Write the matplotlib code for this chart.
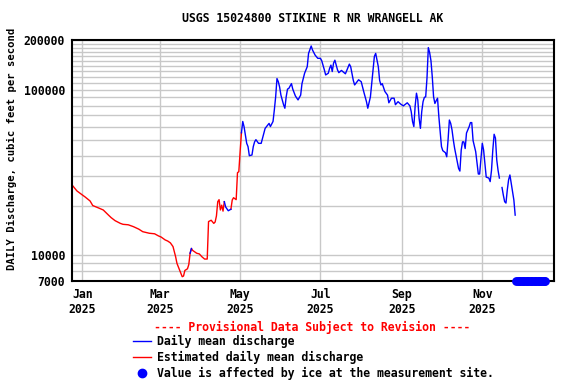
import numpy as np
import pandas as pd
import matplotlib
matplotlib.use("Agg")
import matplotlib.pyplot as plt
from matplotlib.lines import Line2D

plt.rcParams["font.family"] = "DejaVu Sans Mono"
plt.rcParams["font.weight"] = "bold"
plt.rcParams["font.size"] = 8.3

title = "USGS 15024800 STIKINE R NR WRANGELL AK"
ylabel = "DAILY Discharge, cubic feet per second"

# estimated daily mean discharge (red), cfs -- nan breaks the line
est_dates = ["2024-12-25", "2024-12-28", "2025-01-01", "2025-01-03", "2025-01-07",
             "2025-01-09", "2025-01-13", "2025-01-17", "2025-01-21", "2025-01-23",
             "2025-01-26", "2025-01-30", "2025-02-01", "2025-02-05", "2025-02-09",
             "2025-02-13", "2025-02-16", "2025-02-21", "2025-02-25", "2025-02-28",
             "2025-03-02", "2025-03-05", "2025-03-07", "2025-03-09", "2025-03-11",
             "2025-03-13", "2025-03-14", "2025-03-16", "2025-03-18", "2025-03-19",
             "2025-03-20", "2025-03-22", "2025-03-23", "2025-03-24", "2025-03-25",
             "2025-03-26", "2025-03-29", "2025-03-31", "2025-04-02", "2025-04-04",
             "2025-04-06", "2025-04-07", "2025-04-09", "2025-04-11", "2025-04-12",
             "2025-04-13", "2025-04-14", "2025-04-15", "2025-04-16", "2025-04-17",
             "2025-04-18", "2025-04-19", "2025-04-21", "2025-04-24", "2025-04-25",
             "2025-04-26", "2025-04-28", "2025-04-29", "2025-04-30", "2025-05-01",
             "2025-05-02"]
est_flow = [26200, 24500, 23200, 22600, 21300,
            20000, 19400, 18800, 17500, 16900,
            16200, 15600, 15400, 15300, 14900,
            14400, 13900, 13600, 13500, 13100,
            12900, 12400, 12200, 11900, 11300,
            9800, 8950, 8150, 7430, 7500,
            8100, 8300, 8800, 10300, 11000,
            10700, 10300, 10200, 9800, 9500,
            9500, 16000, 16300, 15600, 15900,
            17300, 21100, 21700, 18800, 20100,
            18500, 21100, np.nan, 19000, 21600,
            22300, 21700, 31600, 32000, 42300,
            55000]

# daily mean discharge (blue), cfs
daily_dates = ["2025-03-24", "2025-03-25", "2025-04-01",
               "2025-04-19", "2025-04-20", "2025-04-22", "2025-04-24", "2025-04-28",
               "2025-05-02", "2025-05-03", "2025-05-04", "2025-05-06", "2025-05-07",
               "2025-05-08", "2025-05-10", "2025-05-11", "2025-05-12", "2025-05-13",
               "2025-05-15", "2025-05-17", "2025-05-19", "2025-05-20", "2025-05-22",
               "2025-05-23", "2025-05-24", "2025-05-26", "2025-05-27", "2025-05-28",
               "2025-05-29", "2025-05-30", "2025-05-31", "2025-06-01", "2025-06-03",
               "2025-06-04", "2025-06-05", "2025-06-06", "2025-06-07", "2025-06-09",
               "2025-06-10", "2025-06-12", "2025-06-14", "2025-06-16", "2025-06-17",
               "2025-06-19", "2025-06-21", "2025-06-22", "2025-06-24", "2025-06-25",
               "2025-06-27", "2025-06-29", "2025-07-01", "2025-07-02", "2025-07-04",
               "2025-07-05", "2025-07-07", "2025-07-08", "2025-07-09", "2025-07-10",
               "2025-07-11", "2025-07-12", "2025-07-14", "2025-07-15", "2025-07-17",
               "2025-07-20", "2025-07-23", "2025-07-24", "2025-07-26", "2025-07-27",
               "2025-07-30", "2025-08-01", "2025-08-03", "2025-08-05", "2025-08-06",
               "2025-08-08", "2025-08-10", "2025-08-11", "2025-08-12", "2025-08-14",
               "2025-08-15", "2025-08-16", "2025-08-17", "2025-08-19", "2025-08-21",
               "2025-08-22", "2025-08-24", "2025-08-26", "2025-08-27", "2025-08-29",
               "2025-08-31", "2025-09-02", "2025-09-05", "2025-09-07", "2025-09-08",
               "2025-09-09", "2025-09-10", "2025-09-11", "2025-09-12", "2025-09-13",
               "2025-09-14", "2025-09-15", "2025-09-16", "2025-09-17", "2025-09-18",
               "2025-09-19", "2025-09-20", "2025-09-21", "2025-09-22", "2025-09-23",
               "2025-09-24", "2025-09-25", "2025-09-26", "2025-09-27", "2025-09-28",
               "2025-09-29", "2025-09-30", "2025-10-01", "2025-10-02", "2025-10-04",
               "2025-10-05", "2025-10-06", "2025-10-07", "2025-10-08", "2025-10-09",
               "2025-10-10", "2025-10-11", "2025-10-13", "2025-10-14", "2025-10-15",
               "2025-10-16", "2025-10-17", "2025-10-18", "2025-10-19", "2025-10-20",
               "2025-10-22", "2025-10-23", "2025-10-24", "2025-10-25", "2025-10-27",
               "2025-10-28", "2025-10-29", "2025-10-30", "2025-10-31", "2025-11-01",
               "2025-11-02", "2025-11-03", "2025-11-04", "2025-11-06", "2025-11-07",
               "2025-11-08", "2025-11-09", "2025-11-10", "2025-11-11", "2025-11-12",
               "2025-11-13", "2025-11-14", "2025-11-15", "2025-11-16", "2025-11-17",
               "2025-11-18", "2025-11-19", "2025-11-20", "2025-11-21", "2025-11-22",
               "2025-11-23", "2025-11-24", "2025-11-25", "2025-11-26"]
daily_flow = [10300, 11000, np.nan,
              21100, 19600, 18600, 19000, np.nan,
              55000, 64400, 59800, 47500, 45400,
              40000, 40400, 45400, 48500, 50000,
              47500, 47500, 54700, 58500, 61300,
              62700, 60000, 64400, 75700, 90700,
              117000, 112000, 104000, 92900, 81300,
              77400, 90700, 101000, 102000, 109000,
              101000, 91800, 86900, 92900, 109000,
              126000, 138000, 166000, 184000, 174000,
              162000, 155000, 155000, 150000, 132000,
              123000, 126000, 135000, 141000, 129000,
              145000, 151000, 132000, 127000, 131000,
              125000, 143000, 138000, 114000, 107000,
              115000, 112000, 97000, 84800, 77400,
              90700, 132000, 159000, 166000, 138000,
              114000, 107000, 109000, 97700, 92900,
              83500, 89000, 89000, 81300, 84800,
              82000, 80000, 83500, 80000, 73900,
              64400, 60000, 80000, 95400, 86900,
              67300, 58500, 73900, 84800, 90100,
              90700, 118000, 180000, 168000, 150000,
              120000, 90700, 82700, 86000, 89000,
              68900, 55900, 45400, 42900, 41700,
              39400, 49800, 65700, 62700, 57300,
              49800, 44300, 36700, 33500, 32300,
              43300, 48500, 48500, 44200, 54800,
              59800, 63400, 63400, 49400, 42300,
              36000, 31000, 31000, 38700, 47500,
              43300, 36000, 29700, 29300, 27900,
              32600, 43300, 53900, 51100, 37700,
              32600, 29300, np.nan, 25700, 23100,
              21100, 20700, 24800, 28600, 30600,
              27300, 24200, 21600, 17500]

# days with ice at the measurement site
ice_start = "2025-11-27"
ice_end = "2025-12-19"

y_min, y_max = 7000, 200000
y_grid = [7000, 8000, 9000, 10000, 20000, 30000, 40000, 50000, 60000, 70000,
          80000, 90000, 100000, 110000, 120000, 130000, 140000, 150000, 160000,
          170000, 180000, 190000, 200000]
y_labeled = [7000, 10000, 100000, 200000]
x_ticks = ["2025-01-01", "2025-03-01", "2025-05-01", "2025-07-01", "2025-09-01", "2025-11-01"]

fig = plt.figure(figsize=(5.76, 3.84), dpi=100)
ax = fig.add_axes([72 / 576, 1 - 281 / 384, 482 / 576, 241 / 384])

ax.plot(pd.to_datetime(est_dates), est_flow, color="red", lw=1.0)
ax.plot(pd.to_datetime(daily_dates), daily_flow, color="blue", lw=1.0)

ice_days = pd.date_range(ice_start, ice_end)
ax.plot(ice_days, [y_min] * len(ice_days), "o", color="blue", ms=5.3,
        clip_on=False, zorder=5)

ax.set_yscale("log")
ax.set_ylim(y_min, y_max)
ax.set_yticks(y_grid)
ax.set_yticklabels([str(v) if v in y_labeled else "" for v in y_grid])
ax.yaxis.set_minor_locator(plt.NullLocator())

ax.set_xlim(pd.Timestamp("2024-12-24 06:00"), pd.Timestamp("2025-12-25 12:00"))
xt = pd.to_datetime(x_ticks)
ax.set_xticks(xt)
ax.set_xticklabels([d.strftime("%b\n%Y") for d in xt])

ax.grid(True, color="#c8c8c8", lw=1.0)
ax.set_axisbelow(True)
ax.tick_params(length=0, pad=5)
for sp in ax.spines.values():
    sp.set_linewidth(1.5)
    sp.set_color("black")

fig.text(313 / 576, 1 - 19 / 384, title, ha="center", va="center")
fig.text(12 / 576, 1 - 149 / 384, ylabel, rotation=90, ha="center", va="center",
         fontsize=7.6)

# legend block below the plot
fig.text(312 / 576, 1 - 327 / 384, "---- Provisional Data Subject to Revision ----",
         color="red", ha="center", va="center")
rows = [(341, "blue", "line", "Daily mean discharge"),
        (357, "red", "line", "Estimated daily mean discharge"),
        (373, "blue", "dot", "Value is affected by ice at the measurement site.")]
for y, c, kind, label in rows:
    yf = 1 - y / 384
    if kind == "line":
        fig.add_artist(Line2D([133 / 576, 151 / 576], [yf, yf], color=c, lw=1.0))
    else:
        fig.add_artist(Line2D([142 / 576], [yf], marker="o", color=c, ms=6))
    fig.text(157 / 576, yf, label, ha="left", va="center")

fig.savefig("out.png", dpi=100)
